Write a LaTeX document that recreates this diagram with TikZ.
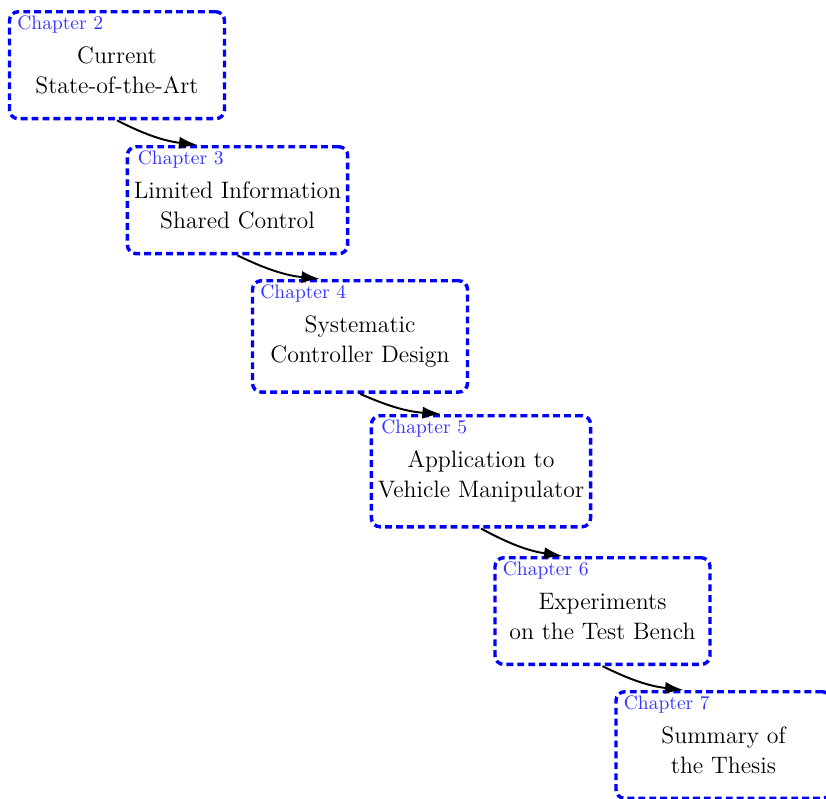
\documentclass[tikz,border=0pt]{standalone}
\usetikzlibrary{arrows.meta}
\newdimen\pxu
\pxu=0.5128pt
\begin{document}
\begin{tikzpicture}[x=\pxu, y=-\pxu,
  chapbox/.style={draw=blue, line width=1.75pt, dash pattern=on 3.5pt off 2.1pt,
    rounded corners=4.5pt, anchor=north, align=center, minimum width=215\pxu,
    inner xsep=3.3pt, inner ysep=12.9pt, text=black,
    font=\fontsize{12.2}{15.2}\selectfont},
  chaplabel/.style={anchor=base west, inner sep=0pt, text=blue!80,
    font=\fontsize{10}{12}\selectfont},
  flow/.style={-{Latex[length=9.5pt,width=6.2pt]}, line width=1pt, bend right=10}]
\useasboundingbox (0,0) rectangle (826,798);
% one dashed box per chapter; the strut leaves room for the chapter label
\node[chapbox] (c2) at (117,10)    {\rule{0pt}{13.6pt}Current\\State-of-the-Art};
\node[chapbox] (c3) at (237.5,145) {\rule{0pt}{13.6pt}Limited Information\\Shared Control};
\node[chapbox] (c4) at (360,279)   {\rule{0pt}{13.6pt}Systematic\\Controller Design};
\node[chapbox] (c5) at (481,414)   {\rule{0pt}{13.6pt}Application to\\Vehicle Manipulator};
\node[chapbox] (c6) at (602.5,556) {\rule{0pt}{13.6pt}Experiments\\on the Test Bench};
\node[chapbox] (c7) at (723.5,690) {\rule{0pt}{13.6pt}Summary of\\the Thesis};
% chapter numbers, a fixed distance left of each box's centre line
\foreach \n in {2,...,7}
  \node[chaplabel] (l\n) at ([shift={(-100,19.5)}]c\n.north) {Chapter \n};
% reading order
\foreach \a/\b in {2/3,3/4,4/5,5/6,6/7}
  \draw[flow] (c\a.south) to ([shift={(-40,0)}]c\b.north);
\end{tikzpicture}
\end{document}
